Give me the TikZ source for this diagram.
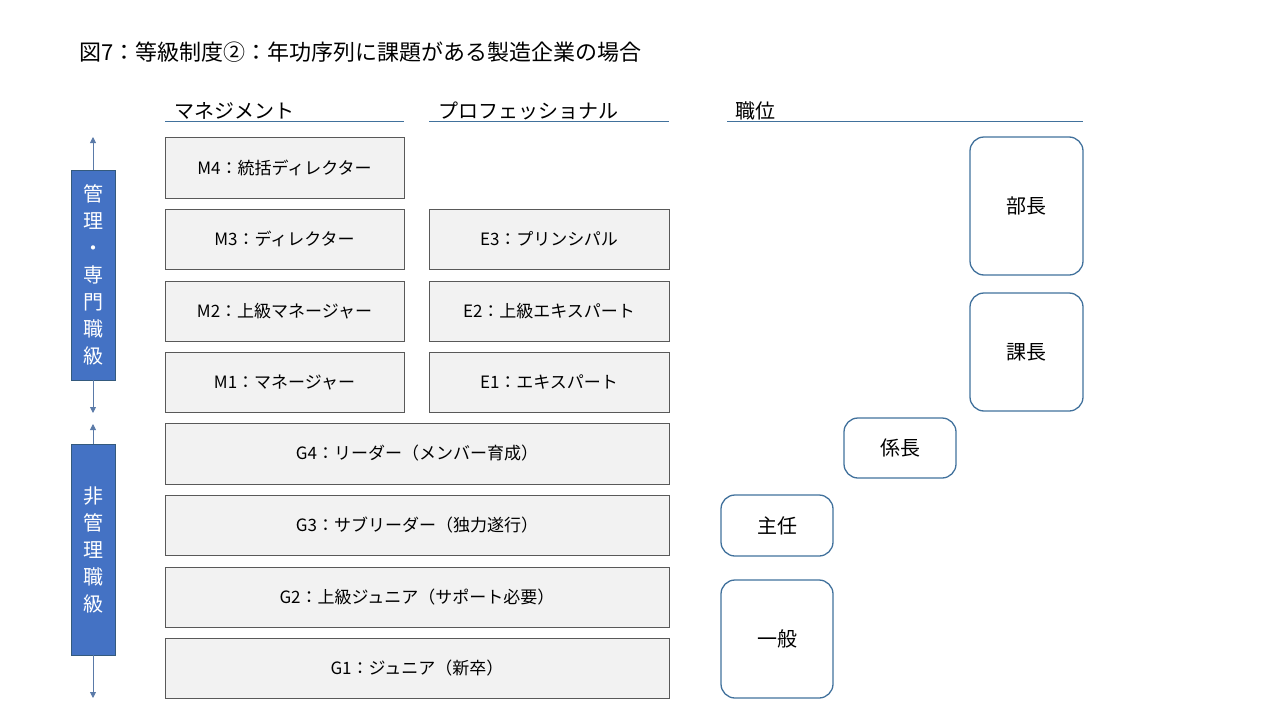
\documentclass[tikz,border=0pt]{standalone}
\usepackage{fontspec}
\setmainfont{Noto Sans CJK JP}
\usetikzlibrary{arrows.meta}
\definecolor{steel}{HTML}{41719C}
\definecolor{accent}{HTML}{4472C4}
\definecolor{arr}{HTML}{5A7AA8}
\begin{document}
\begin{tikzpicture}[x=1pt,y=-1pt,
  gb/.style={draw=black!65,fill=black!5,line width=0.8pt,font=\fontsize{17}{20}\selectfont},
  posbox/.style={draw=steel,line width=1.3pt,rounded corners=14pt,font=\fontsize{20}{24}\selectfont},
  hd/.style={anchor=south west,font=\fontsize{20}{24}\selectfont,inner sep=2pt},
  ul/.style={draw=steel,line width=0.8pt},
  side/.style={draw=steel!80!black,fill=accent,text=white,font=\fontsize{20}{23}\selectfont,line width=0.8pt},
  ar/.style={draw=arr,line width=0.9pt,-{Triangle[length=6pt,width=6pt]}}]
\useasboundingbox (0,0) rectangle (1280,720);
\node[anchor=west,font=\fontsize{22}{26}\selectfont] (title) at (76,52) {図7：等級制度②：年功序列に課題がある製造企業の場合};
% headers
\node[hd] (h1) at (172,122) {マネジメント};
\node[hd] (h2) at (436,122) {プロフェッショナル};
\node[hd] (h3) at (733,122) {職位};
\draw[ul] (165,121.5) -- (404,121.5);
\draw[ul] (429,121.5) -- (669,121.5);
\draw[ul] (727,121.5) -- (1083,121.5);
% grade boxes
\newcommand{\gbox}[6]{\node[gb,minimum width=#3-#2,minimum height=#5-#4] (#1) at ({(#2+#3)/2},{(#4+#5)/2}) {#6};}
\gbox{m4}{165}{404}{137}{198}{M4：統括ディレクター}
\gbox{m3}{165}{404}{209}{269}{M3：ディレクター}
\gbox{m2}{165}{404}{281}{341}{M2：上級マネージャー}
\gbox{m1}{165}{404}{352}{412}{M1：マネージャー}
\gbox{e3}{429}{669}{209}{269}{E3：プリンシパル}
\gbox{e2}{429}{669}{281}{341}{E2：上級エキスパート}
\gbox{e1}{429}{669}{352}{412}{E1：エキスパート}
\gbox{g4}{165}{669}{423}{484}{G4：リーダー（メンバー育成）}
\gbox{g3}{165}{669}{495}{555}{G3：サブリーダー（独力遂行）}
\gbox{g2}{165}{669}{567}{627}{G2：上級ジュニア（サポート必要）}
\gbox{g1}{165}{669}{638}{698}{G1：ジュニア（新卒）}
% positions
\newcommand{\pbox}[6]{\node[posbox,minimum width=#3-#2,minimum height=#5-#4] (#1) at ({(#2+#3)/2},{(#4+#5)/2}) {#6};}
\pbox{bucho}{970}{1083}{137}{275}{部長}
\pbox{kacho}{970}{1083}{293}{411}{課長}
\pbox{kakari}{844}{956}{418}{478}{係長}
\pbox{shunin}{721}{833}{495}{556}{主任}
\pbox{ippan}{721}{833}{580}{698}{一般}
% side bars
\coordinate (a1t) at (93,137);
\coordinate (a1b) at (93,413);
\coordinate (a2t) at (93,424);
\coordinate (a2b) at (93,698);
\node[side,minimum width=44,minimum height=210,align=center] (s1) at (93,275) {管\\[4pt]理\\[4pt]・\\[4pt]専\\[4pt]門\\[4pt]職\\[4pt]級};
\node[side,minimum width=44,minimum height=211,align=center] (s2) at (93,549.5) {非\\[4pt]管\\[4pt]理\\[4pt]職\\[4pt]級};
\draw[ar] (s1.north) -- (a1t);
\draw[ar] (s1.south) -- (a1b);
\draw[ar] (s2.north) -- (a2t);
\draw[ar] (s2.south) -- (a2b);
\end{tikzpicture}
\end{document}
